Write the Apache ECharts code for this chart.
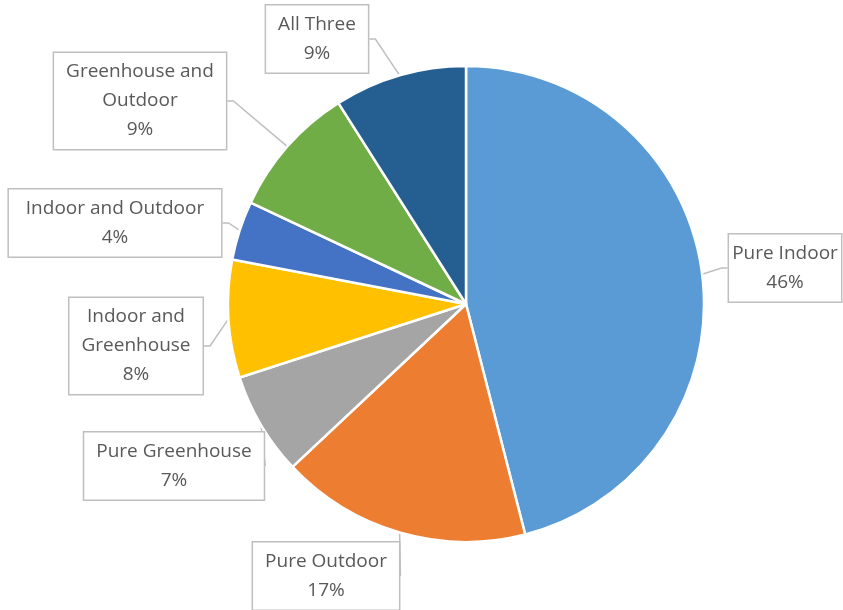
<!DOCTYPE html>
<html>
<head>
<meta charset="utf-8">
<script src="https://cdn.jsdelivr.net/npm/echarts@6/dist/echarts.min.js"></script>
<style>
  html, body { margin: 0; padding: 0; background: #fff; }
  #chart { width: 843px; height: 610px; }
</style>
</head>
<body>
<div id="chart"></div>
<script>
// Share of each growing setup, in percent, clockwise from 12 o'clock
const categories = [
  'Pure Indoor',
  'Pure Outdoor',
  'Pure Greenhouse',
  'Indoor and Greenhouse',
  'Indoor and Outdoor',
  'Greenhouse and Outdoor',
  'All Three'
];
const shares = [46, 17, 7, 8, 4, 9, 9];

// Callout text, wrapped the way each box shows it
const calloutText = [
  'Pure Indoor',
  'Pure Outdoor',
  'Pure Greenhouse',
  'Indoor and\nGreenhouse',
  'Indoor and Outdoor',
  'Greenhouse and\nOutdoor',
  'All Three'
];

const sliceColors = ['#5B9BD5', '#ED7D31', '#A5A5A5', '#FFC000', '#4472C4', '#70AD47', '#255E91'];

// Centre of each callout box on the canvas
const calloutCenters = [
  [785, 268],
  [326, 576],
  [174, 466],
  [136, 346],
  [115, 223],
  [140, 101],
  [317, 39]
];

const chart = echarts.init(document.getElementById('chart'), null, { renderer: 'canvas' });

chart.setOption({
  animation: false,
  backgroundColor: '#ffffff',
  series: [{
    type: 'pie',
    center: [466, 304],
    radius: 238,
    startAngle: 90,
    clockwise: true,
    data: categories.map((name, i) => ({
      name,
      value: shares[i],
      itemStyle: { color: sliceColors[i] }
    })),
    itemStyle: { borderColor: '#ffffff', borderWidth: 2.5 },
    label: {
      show: true,
      position: 'outside',
      overflow: 'none',
      formatter: p => calloutText[p.dataIndex] + '\n' + p.value + '%',
      fontFamily: '"Open Sans", sans-serif',
      fontSize: 19,
      lineHeight: 29,
      color: '#595959',
      align: 'center',
      backgroundColor: '#ffffff',
      borderColor: '#bfbfbf',
      borderWidth: 1.5,
      padding: [7, 12, 2, 12]
    },
    labelLine: {
      show: true,
      length: 8,
      length2: 6,
      lineStyle: { color: '#bfbfbf', width: 1.5 }
    },
    labelLayout: p => ({
      x: calloutCenters[p.dataIndex][0],
      y: calloutCenters[p.dataIndex][1],
      align: 'center',
      verticalAlign: 'middle'
    })
  }]
});
</script>
</body>
</html>
